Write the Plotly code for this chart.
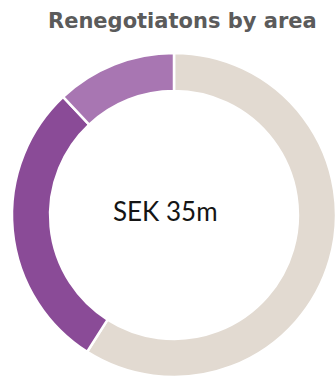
import plotly.graph_objects as go

# Share of renegotiated value per area (percent of SEK 35m), clockwise from 12 o'clock
areas = ["Area 3", "Area 2", "Area 1"]
shares = [59, 29, 12]
colors = ["#E2DAD1", "#8A4B97", "#A876B2"]

title_text = "Renegotiatons by area"
center_text = "SEK 35m"

W, H = 336, 377

fig = go.Figure(
    go.Pie(
        labels=areas,
        values=shares,
        hole=0.765,
        sort=False,
        direction="clockwise",
        rotation=0,
        marker=dict(colors=colors, line=dict(color="white", width=2.5)),
        textinfo="none",
        hoverinfo="label+percent",
        domain=dict(x=[12 / W, 1.0], y=[0.0, 324 / H]),
        showlegend=False,
    )
)

fig.add_annotation(
    text=f"<b>{title_text}</b>",
    x=182 / W, y=1 - 21 / H, xref="paper", yref="paper",
    xanchor="center", yanchor="middle", showarrow=False,
    font=dict(family="DejaVu Sans", size=21, color="#5B5B5B"),
)
fig.add_annotation(
    text=center_text,
    x=165 / W, y=1 - 211 / H, xref="paper", yref="paper",
    xanchor="center", yanchor="middle", showarrow=False,
    font=dict(family="Lato", size=26, color="#151515"),
)

fig.update_layout(
    width=W, height=H,
    margin=dict(l=0, r=0, t=0, b=0),
    paper_bgcolor="white", plot_bgcolor="white",
)

fig.write_html("out.html")
